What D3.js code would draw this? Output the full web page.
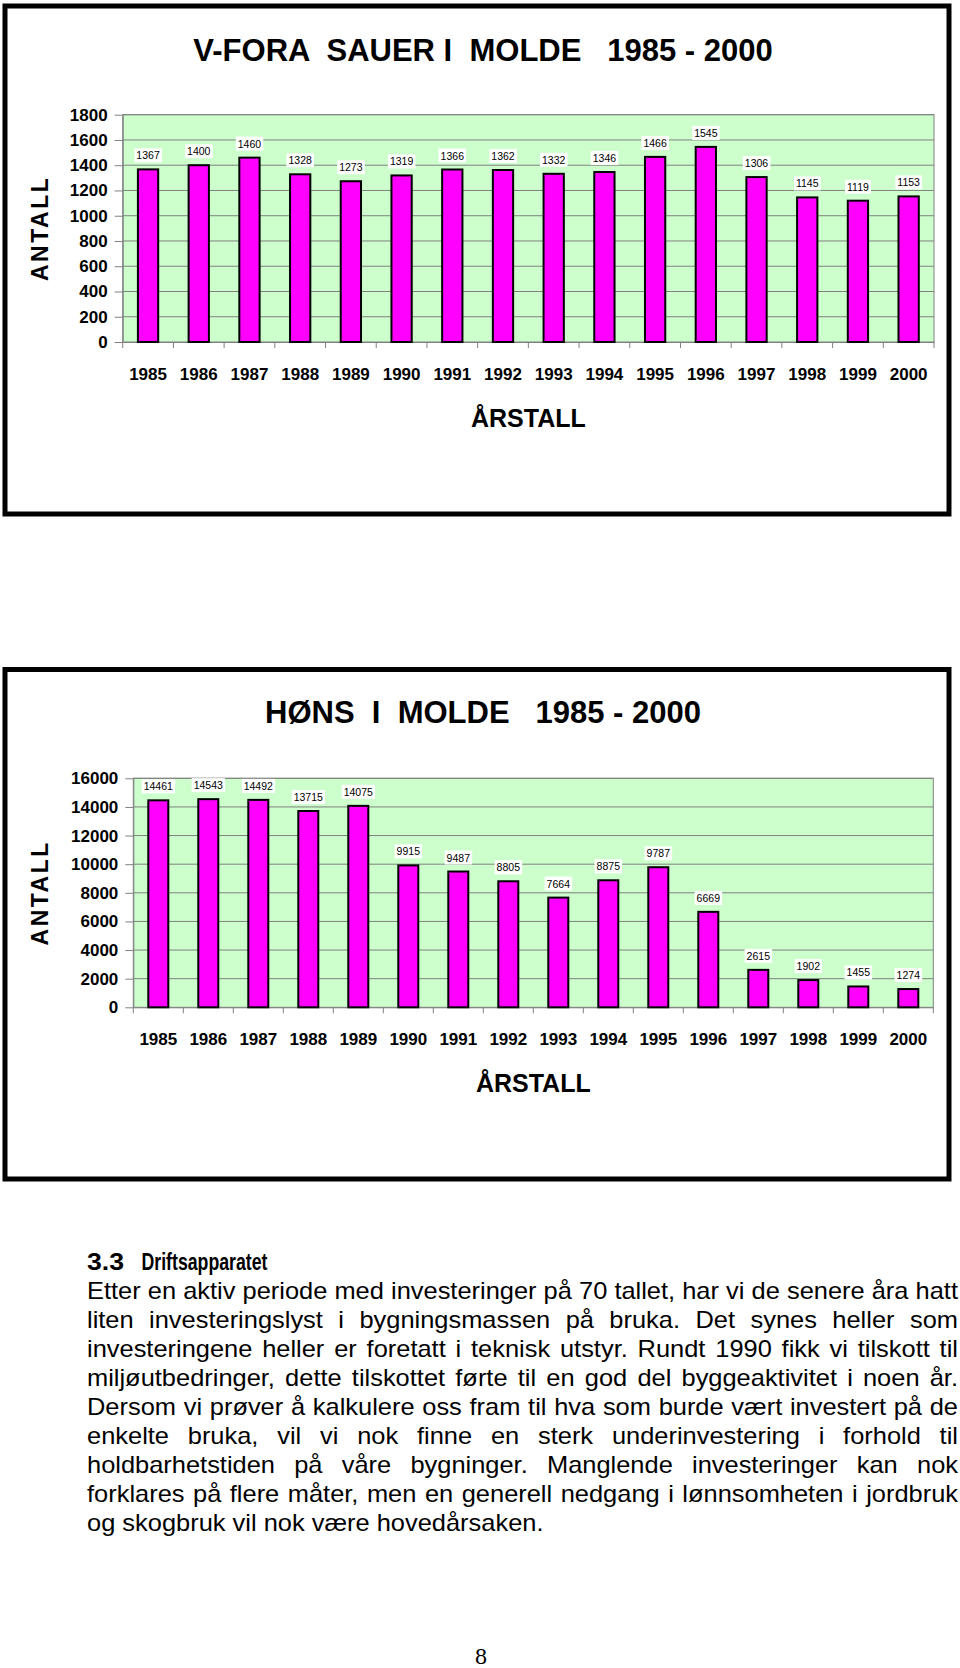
<!DOCTYPE html>
<html>
<head>
<meta charset="utf-8">
<script src="https://cdn.jsdelivr.net/npm/d3@7"></script>
<style>
  body { margin: 0; background: #fff; }
  svg { display: block; }
</style>
</head>
<body>
<div class="canvas"></div>
<script>
const width = 960
const height = 1668

// data
const years = ["1985","1986","1987","1988","1989","1990","1991","1992",
               "1993","1994","1995","1996","1997","1998","1999","2000"]
const sheepValues = [1367,1400,1460,1328,1273,1319,1366,1362,1332,1346,1466,1545,1306,1145,1119,1153]
const henValues = [14461,14543,14492,13715,14075,9915,9487,8805,7664,8875,9787,6669,2615,1902,1455,1274]
const sheepTicks = [0,200,400,600,800,1000,1200,1400,1600,1800]
const henTicks = [0,2000,4000,6000,8000,10000,12000,14000,16000]

const sheepTitle = "V-FORA  SAUER I  MOLDE   1985 - 2000"
const henTitle = "HØNS  I  MOLDE   1985 - 2000"

const textLines = [
  "Etter en aktiv periode med investeringer på 70 tallet, har vi de senere åra hatt",
  "liten investeringslyst i bygningsmassen på bruka. Det synes heller som",
  "investeringene heller er foretatt i teknisk utstyr. Rundt 1990 fikk vi tilskott til",
  "miljøutbedringer, dette tilskottet førte til en god del byggeaktivitet i noen år.",
  "Dersom vi prøver å kalkulere oss fram til hva som burde vært investert på de",
  "enkelte bruka, vil vi nok finne en sterk underinvestering i forhold til",
  "holdbarhetstiden på våre bygninger. Manglende investeringer kan nok",
  "forklares på flere måter, men en generell nedgang i lønnsomheten i jordbruk",
  "og skogbruk vil nok være hovedårsaken."
]

const font = "'Liberation Sans', Arial, sans-serif"

const svg = d3.select(".canvas")
    .append("svg")
    .attr("width", width)
    .attr("height", height)

function drawChart(cfg) {
    const g = svg.append("g")

    // frame
    g.append("rect")
        .attr("x", cfg.box[0]).attr("y", cfg.box[1])
        .attr("width", cfg.box[2]).attr("height", cfg.box[3])
        .attr("fill", "#fff")
        .attr("stroke", "#000")
        .attr("stroke-width", 5)

    g.append("text")
        .attr("x", 483)
        .attr("y", cfg.titleY)
        .attr("text-anchor", "middle")
        .style("white-space", "pre")
        .attr("font-family", font)
        .attr("font-weight", "bold")
        .attr("font-size", 31)
        .text(cfg.title)

    const x = d3.scaleBand()
        .domain(years)
        .range([cfg.left, cfg.right])
        .paddingInner(0.6)
        .paddingOuter(0.3)

    const y = d3.scaleLinear()
        .domain([0, d3.max(cfg.ticks)])
        .range([cfg.bottom, cfg.top])

    // plot area
    g.append("rect")
        .attr("x", cfg.left).attr("y", cfg.top)
        .attr("width", cfg.right - cfg.left)
        .attr("height", cfg.bottom - cfg.top)
        .attr("fill", "#ccffcc")
        .attr("stroke", "#808080")
        .attr("stroke-width", 1)

    g.selectAll(".grid")
        .data(cfg.ticks.slice(1))
        .enter()
        .append("line")
        .attr("x1", cfg.left).attr("x2", cfg.right)
        .attr("y1", d => y(d)).attr("y2", d => y(d))
        .attr("stroke", "#808080")
        .attr("stroke-width", 1)

    // y axis
    const yAxis = g.append("g")
        .attr("transform", `translate(${cfg.left},0)`)
        .call(d3.axisLeft(y).tickValues(cfg.ticks).tickFormat(d3.format("d"))
            .tickSize(8).tickSizeOuter(0).tickPadding(7))
    yAxis.select(".domain").attr("stroke", "#808080")
    yAxis.selectAll(".tick line").attr("stroke", "#808080")
    yAxis.selectAll("text")
        .attr("font-family", font)
        .attr("font-weight", "bold")
        .attr("font-size", 17)
        .attr("fill", "#000")

    // x axis
    const xAxis = g.append("g")
        .attr("transform", `translate(0,${cfg.bottom})`)
        .call(d3.axisBottom(x).tickSize(0).tickPadding(26))
    xAxis.select(".domain").attr("stroke", "#808080")
    xAxis.selectAll("text")
        .attr("font-family", font)
        .attr("font-weight", "bold")
        .attr("font-size", 17)
        .attr("fill", "#000")

    // category boundary ticks
    const bounds = years.map(d => x(d) - (x.step() - x.bandwidth()) / 2)
    bounds.push(cfg.right)
    g.selectAll(".xtick")
        .data(bounds)
        .enter()
        .append("line")
        .attr("x1", d => d).attr("x2", d => d)
        .attr("y1", cfg.bottom).attr("y2", cfg.bottom + 6)
        .attr("stroke", "#808080")

    // bars
    g.selectAll(".bar")
        .data(cfg.values)
        .enter()
        .append("rect")
        .attr("x", (d, i) => x(years[i]))
        .attr("y", d => y(d))
        .attr("width", x.bandwidth())
        .attr("height", d => cfg.bottom - y(d))
        .attr("fill", "#ff00ff")
        .attr("stroke", "#000")
        .attr("stroke-width", 2)

    // value labels with white boxes
    const labels = g.selectAll(".lab")
        .data(cfg.values)
        .enter()
        .append("g")
    labels.append("rect").attr("fill", "#fff")
    labels.append("text")
        .attr("x", (d, i) => x(years[i]) + x.bandwidth() / 2)
        .attr("y", d => y(d) - 10)
        .attr("text-anchor", "middle")
        .attr("font-family", font)
        .attr("font-size", 10.5)
        .text(d => d)
    labels.each(function() {
        const bb = d3.select(this).select("text").node().getBBox()
        d3.select(this).select("rect")
            .attr("x", bb.x - 2).attr("y", bb.y - 1)
            .attr("width", bb.width + 4).attr("height", bb.height + 2)
    })

    // axis titles
    g.append("text")
        .attr("transform", `translate(48,${(cfg.top + cfg.bottom) / 2}) rotate(-90)`)
        .attr("text-anchor", "middle")
        .attr("font-family", font)
        .attr("font-weight", "bold")
        .attr("font-size", 23)
        .attr("letter-spacing", 2.5)
        .text("ANTALL")

    g.append("text")
        .attr("x", (cfg.left + cfg.right) / 2)
        .attr("y", cfg.bottom + 85)
        .attr("text-anchor", "middle")
        .attr("font-family", font)
        .attr("font-weight", "bold")
        .attr("font-size", 25)
        .text("ÅRSTALL")
}

drawChart({
    box: [5, 6, 944, 508], titleY: 61, title: sheepTitle,
    left: 122.7, right: 934, top: 114.7, bottom: 342,
    values: sheepValues, ticks: sheepTicks
})

drawChart({
    box: [5, 669.5, 944, 509.5], titleY: 723, title: henTitle,
    left: 133.3, right: 933.3, top: 778.3, bottom: 1007.3,
    values: henValues, ticks: henTicks
})

// text section
const textLeft = 87
const textWidth = 871
const fontSize = 23

svg.append("text")
    .attr("x", textLeft).attr("y", 1270)
    .attr("font-family", font).attr("font-weight", "bold").attr("font-size", 24)
    .attr("textLength", 37).attr("lengthAdjust", "spacingAndGlyphs")
    .text("3.3")
svg.append("text")
    .attr("x", 141.5).attr("y", 1270)
    .attr("font-family", font).attr("font-weight", "bold").attr("font-size", 24)
    .attr("textLength", 126).attr("lengthAdjust", "spacingAndGlyphs")
    .text("Driftsapparatet")

// horizontal scale so the first (full) line fits with ordinary spaces
const probe = svg.append("text")
    .attr("font-family", font).attr("font-size", fontSize)
    .style("white-space", "pre")
probe.text(textLines[0])
const sx = textWidth / probe.node().getComputedTextLength()
probe.text("a a")
const w1 = probe.node().getComputedTextLength()
probe.text("aa")
const spaceW = w1 - probe.node().getComputedTextLength()
probe.remove()

textLines.forEach((line, li) => {
    const words = line.split(" ")
    const row = svg.append("g")
        .attr("transform", `translate(${textLeft},${1298.5 + li * 29}) scale(${sx},1)`)
    const nodes = words.map(w => row.append("text")
        .attr("font-family", font)
        .attr("font-size", fontSize)
        .text(w))
    const widths = nodes.map(n => n.node().getComputedTextLength())
    const last = li === textLines.length - 1
    const gap = last ? spaceW : (textWidth / sx - d3.sum(widths)) / (words.length - 1)
    let cx = 0
    nodes.forEach((n, i) => {
        n.attr("x", cx)
        cx += widths[i] + gap
    })
})

svg.append("text")
    .attr("x", 481).attr("y", 1664)
    .attr("text-anchor", "middle")
    .attr("font-family", "'Liberation Serif', 'Times New Roman', serif")
    .attr("font-size", 24)
    .text("8")
</script>
</body>
</html>
